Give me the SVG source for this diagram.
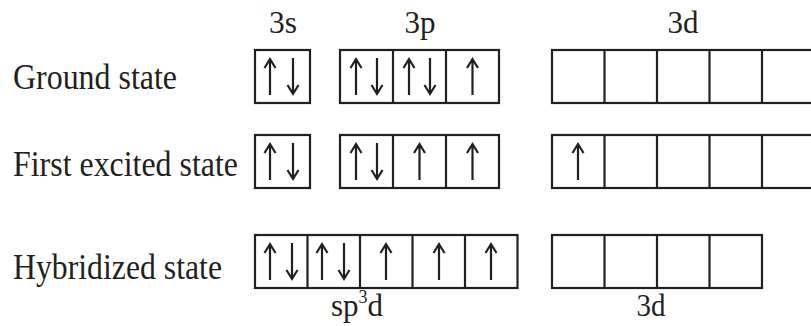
<svg xmlns="http://www.w3.org/2000/svg" xmlns:xlink="http://www.w3.org/1999/xlink" width="811" height="326" viewBox="0 0 811 326">
<style>
text{font-family:'Times New Roman','Liberation Serif','DejaVu Serif',serif;fill:#231f20}
.lbl{font-size:36px}
.orb{font-size:31px}
.box{fill:none;stroke:#231f20;stroke-width:2.2}
.arr{fill:none;stroke:#231f20;stroke-width:2.2;stroke-linecap:butt;stroke-linejoin:miter}
</style>
<defs>
<g id="up" class="arr"><path d="M0,1 V37 M-5.5,10 L0,1 L5.5,10"/></g>
<g id="dn" class="arr"><path d="M0,0 V36 M-5.5,27 L0,36 L5.5,27"/></g>
</defs>
<rect width="811" height="326" fill="#fff"/>

<g id="orbital-labels">
<text class="orb" x="283" y="33" text-anchor="middle" textLength="28" lengthAdjust="spacingAndGlyphs">3s</text>
<text class="orb" x="420" y="33" text-anchor="middle" textLength="31" lengthAdjust="spacingAndGlyphs">3p</text>
<text class="orb" x="683" y="33" text-anchor="middle" textLength="31" lengthAdjust="spacingAndGlyphs">3d</text>
</g>

<g id="ground-state">
<text class="lbl" x="13" y="89" textLength="164" lengthAdjust="spacingAndGlyphs">Ground state</text>
<g id="g-3s">
<rect class="box" x="255" y="50" width="55" height="53"/>
<use xlink:href="#up" x="270" y="58"/><use xlink:href="#dn" x="293" y="58"/>
</g>
<g id="g-3p">
<rect class="box" x="340" y="50" width="159" height="53"/>
<path class="box" d="M393,50V103M446,50V103"/>
<use xlink:href="#up" x="356" y="58"/><use xlink:href="#dn" x="377" y="58"/>
<use xlink:href="#up" x="409" y="58"/><use xlink:href="#dn" x="430" y="58"/>
<use xlink:href="#up" x="472.5" y="58"/>
</g>
<g id="g-3d">
<rect class="box" x="552" y="50" width="263" height="53"/>
<path class="box" d="M604.5,50V103M657,50V103M709.5,50V103M762,50V103"/>
</g>
</g>

<g id="first-excited-state">
<text class="lbl" x="13" y="176" textLength="225" lengthAdjust="spacingAndGlyphs">First excited state</text>
<g id="e-3s">
<rect class="box" x="255" y="135" width="55" height="53"/>
<use xlink:href="#up" x="270" y="143"/><use xlink:href="#dn" x="293" y="143"/>
</g>
<g id="e-3p">
<rect class="box" x="340" y="135" width="159" height="53"/>
<path class="box" d="M393,135V188M446,135V188"/>
<use xlink:href="#up" x="356" y="143"/><use xlink:href="#dn" x="377" y="143"/>
<use xlink:href="#up" x="419.5" y="143"/>
<use xlink:href="#up" x="472.5" y="143"/>
</g>
<g id="e-3d">
<rect class="box" x="552" y="135" width="263" height="53"/>
<path class="box" d="M604.5,135V188M657,135V188M709.5,135V188M762,135V188"/>
<use xlink:href="#up" x="578" y="143"/>
</g>
</g>

<g id="hybridized-state">
<text class="lbl" x="13" y="279" textLength="209" lengthAdjust="spacingAndGlyphs">Hybridized state</text>
<g id="h-sp3d">
<rect class="box" x="255" y="235" width="262.5" height="53"/>
<path class="box" d="M307.5,235V288M360,235V288M412.5,235V288M465,235V288"/>
<use xlink:href="#up" x="270" y="243"/><use xlink:href="#dn" x="292" y="243"/>
<use xlink:href="#up" x="322" y="243"/><use xlink:href="#dn" x="344" y="243"/>
<use xlink:href="#up" x="386" y="243"/>
<use xlink:href="#up" x="439" y="243"/>
<use xlink:href="#up" x="491" y="243"/>
</g>
<g id="h-3d">
<rect class="box" x="552" y="235" width="210" height="53"/>
<path class="box" d="M604.5,235V288M657,235V288M709.5,235V288"/>
</g>
<text class="orb" x="331" y="316">sp<tspan font-size="18" dy="-13">3</tspan><tspan dy="13">d</tspan></text>
<text class="orb" x="651" y="316" text-anchor="middle" textLength="29" lengthAdjust="spacingAndGlyphs">3d</text>
</g>
<g id="connectors"/>
</svg>
